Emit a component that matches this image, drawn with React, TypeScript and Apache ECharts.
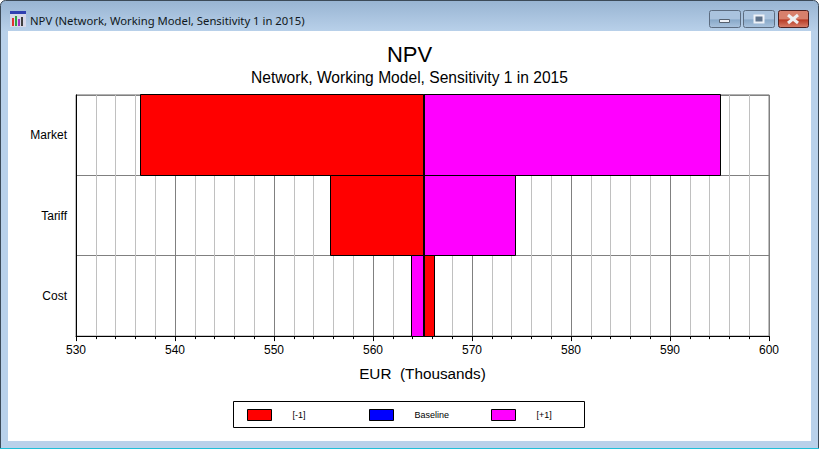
import React, { useEffect, useRef } from "react";
import * as echarts from "echarts";

const windowTitle = "NPV (Network, Working Model, Sensitivity 1 in 2015)";
const chartTitle = "NPV";
const chartSubtitle = "Network, Working Model, Sensitivity 1 in 2015";
const axisName = "EUR  (Thousands)";
const categories = ["Market", "Tariff", "Cost"];
const baseline = 565.15;
const minusOne = [536.5, 555.7, 566.2];
const plusOne = [595.1, 574.4, 563.9];
const legendNames = ["[-1]", "Baseline", "[+1]"];
const colors = ["#ff0000", "#0000ff", "#ff00ff"];

const crisp = (v: number) => Math.round(v - 0.5) + 0.5;

const renderBar = (params: any, api: any) => {
  const a = api.coord([api.value(1), api.value(0)]);
  const b = api.coord([api.value(2), api.value(0)]);
  const h = api.size([0, 1])[1];
  const x0 = crisp(Math.min(a[0], b[0]));
  const x1 = crisp(Math.max(a[0], b[0]));
  const y0 = crisp(a[1] - h / 2);
  const y1 = crisp(a[1] + h / 2);
  return {
    type: "rect",
    shape: { x: x0, y: y0, width: x1 - x0, height: y1 - y0 },
    style: { fill: api.visual("color"), stroke: "#000", lineWidth: 1 },
  };
};

const barSeries = (name: string, color: string, values: number[], lineWidth = 1) => ({
  type: "custom",
  name,
  coordinateSystem: "cartesian2d",
  renderItem:
    lineWidth === 1
      ? renderBar
      : (params: any, api: any) => {
          const a = api.coord([api.value(1), api.value(0)]);
          const h = api.size([0, 1])[1];
          return {
            type: "line",
            shape: { x1: Math.round(a[0]), y1: a[1] - h / 2, x2: Math.round(a[0]), y2: a[1] + h / 2 },
            style: { stroke: "#000", lineWidth },
          };
        },
  itemStyle: { color, borderColor: "#000", borderWidth: 1 },
  encode: { x: [1, 2], y: 0 },
  data: categories.map((c, i) => [i, baseline, values[i]]),
  z: lineWidth === 1 ? 3 : 4,
});

const chrome = (): any[] => {
  const btn = (x: number, w: number, top: string, bot: string, border: string) => ({
    type: "rect",
    z: -5,
    shape: { x: x + 0.5, y: 10.5, width: w, height: 17, r: 2 },
    style: {
      fill: new echarts.graphic.LinearGradient(0, 0, 0, 1, [
        { offset: 0, color: top },
        { offset: 0.5, color: top },
        { offset: 0.55, color: bot },
        { offset: 1, color: top },
      ]),
      stroke: border,
      lineWidth: 1,
    },
  });
  const bar = (x: number, y: number, w: number, h: number, fill: string) => ({
    type: "rect",
    z: -4,
    shape: { x, y, width: w, height: h },
    style: { fill },
  });
  return [
    {
      type: "rect",
      z: -10,
      shape: { x: 0.5, y: 0.5, width: 818, height: 448, r: [5, 5, 0, 0] },
      style: {
        fill: new echarts.graphic.LinearGradient(0, 0, 0, 1, [
          { offset: 0, color: "#98b4d2" },
          { offset: 0.07, color: "#b9d1ea" },
          { offset: 1, color: "#b9d1ea" },
        ]),
        stroke: "#3c4a58",
        lineWidth: 1,
      },
    },
    bar(0, 448, 819, 1, "#20c0d8"),
    { type: "rect", z: -9, shape: { x: 8, y: 31, width: 803, height: 410 }, style: { fill: "#fff" } },
    // legend frame
    { type: "rect", z: -4, shape: { x: 233.5, y: 401.5, width: 351, height: 26 }, style: { fill: "#fff", stroke: "#000", lineWidth: 1 } },
    // window icon
    bar(10, 11, 16, 16, "#d8d8e8"),
    bar(10, 11, 16, 3, "#3040b0"),
    bar(12, 18, 2, 8, "#e03030"),
    bar(15, 16, 2, 10, "#30a040"),
    bar(18, 19, 2, 7, "#a030c0"),
    bar(21, 17, 2, 9, "#404040"),
    {
      type: "text",
      z: -4,
      style: {
        text: windowTitle,
        x: 30,
        y: 20,
        verticalAlign: "middle",
        font: "11.3px 'Noto Sans'",
        fill: "#101820",
      },
    },
    // window buttons
    btn(709, 31, "#aac3de", "#88a8c8", "#5c6c80"),
    btn(743, 31, "#aac3de", "#88a8c8", "#5c6c80"),
    btn(778, 30, "#d8806c", "#b83a24", "#4c2020"),
    { type: "rect", z: -4, shape: { x: 719.5, y: 19.5, width: 10, height: 3 }, style: { fill: "#eef2f8", stroke: "#55606e", lineWidth: 1 } },
    { type: "rect", z: -4, shape: { x: 754.5, y: 15.5, width: 9, height: 7 }, style: { fill: "#5f738c", stroke: "#eef2f8", lineWidth: 2 } },
    { type: "line", z: -4, shape: { x1: 788, y1: 15, x2: 798, y2: 23 }, style: { stroke: "#eef0f2", lineWidth: 3 } },
    { type: "line", z: -4, shape: { x1: 798, y1: 15, x2: 788, y2: 23 }, style: { stroke: "#eef0f2", lineWidth: 3 } },
  ];
};

export default function App() {
  const ref = useRef<HTMLDivElement>(null);
  useEffect(() => {
    document.body.style.margin = "0";
    const chart = echarts.init(ref.current!, undefined, { renderer: "svg" });
    const font = "'Liberation Sans', Arial, sans-serif";
    chart.setOption({
      animation: false,
      textStyle: { fontFamily: font },
      title: {
        text: chartTitle,
        subtext: chartSubtitle,
        left: 409.5,
        textAlign: "center",
        top: 43,
        padding: 0,
        itemGap: 4,
        textStyle: { fontSize: 22, fontWeight: "normal", color: "#000", fontFamily: font },
        subtextStyle: { fontSize: 15.6, color: "#000", fontFamily: font },
      },
      grid: { left: 76, top: 94.9, width: 693, height: 241.2, show: true, borderColor: "#808080", borderWidth: 1, containLabel: false },
      xAxis: {
        type: "value",
        min: 530,
        max: 600,
        interval: 10,
        name: axisName,
        nameLocation: "middle",
        nameGap: 30,
        nameTextStyle: { fontSize: 15.3, color: "#000", fontFamily: font },
        axisLine: { show: true, lineStyle: { color: "#000", width: 1 } },
        axisTick: { show: true, length: 5, lineStyle: { color: "#000" } },
        minorTick: { show: true, splitNumber: 5, length: 3, lineStyle: { color: "#000" } },
        axisLabel: { fontSize: 12, color: "#000", margin: 8, fontFamily: font },
        splitLine: { show: true, lineStyle: { color: "#808080", width: 1 } },
        minorSplitLine: { show: true, lineStyle: { color: "#c0c0c0", width: 1 } },
      },
      yAxis: {
        type: "category",
        data: categories,
        inverse: true,
        axisLine: { show: true, lineStyle: { color: "#000", width: 1 } },
        axisTick: { show: false },
        axisLabel: { fontSize: 12, color: "#000", margin: 9, fontFamily: font },
        splitLine: { show: true, lineStyle: { color: "#808080", width: 1 } },
      },
      legend: legendNames.map((name, i) => ({
        left: 247 + i * 122,
        top: 409,
        padding: 0,
        itemWidth: 24,
        itemHeight: 11,
        selectedMode: false,
        icon: "rect",
        data: [{ name, itemStyle: { color: colors[i], borderColor: "#000", borderWidth: 1 } }],
        textStyle: { fontSize: 9, color: "#000", fontFamily: font, padding: [0, 0, 0, 16] },
      })),
      graphic: { elements: chrome() },
      series: [
        barSeries(legendNames[0], colors[0], minusOne),
        barSeries(legendNames[2], colors[2], plusOne),
        barSeries(legendNames[1], colors[1], categories.map(() => baseline), 2),
      ],
    });
    return () => chart.dispose();
  }, []);
  return <div ref={ref} style={{ width: 819, height: 449 }} />;
}
